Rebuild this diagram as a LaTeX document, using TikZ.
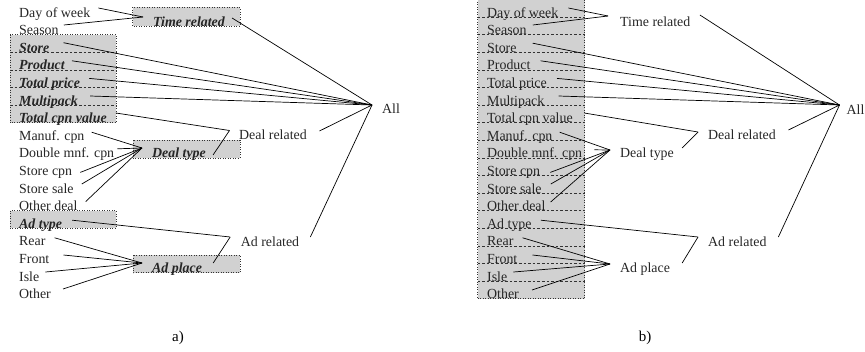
\documentclass[tikz,border=0pt]{standalone}
\usepackage{fontspec}
\setmainfont{Liberation Serif}
\begin{document}
\begin{tikzpicture}[x=1pt,y=-1pt,
  lbl/.style={font=\fontsize{13.9}{16}\selectfont, inner sep=0pt, anchor=base west, text=black!85},
  blbl/.style={lbl, font=\fontsize{13.9}{16}\selectfont\bfseries\itshape},
  conn/.style={line width=0.7pt, black},
  gfill/.style={fill=black!18, draw=none},
  gborder/.style={draw=black!80, line width=0.6pt, dash pattern=on 0.7pt off 1.8pt},
  sepline/.style={draw=black!80, line width=0.55pt, dash pattern=on 2.6pt off 2pt},
  panel/.style={font=\fontsize{15}{18}\selectfont, inner sep=0pt}]
\useasboundingbox (0,0) rectangle (865,351);

% ---------------- boxes panel a ----------------
\fill[gfill] (132.5,7.3) rectangle (240,26);
\draw[gborder] (132.5,7.3) rectangle (240,26);
\fill[gfill] (10,34.6) rectangle (116,122.6);
\foreach \yy in {52.2,69.8,87.4,105} \draw[sepline] (10,\yy) -- (116,\yy);
\draw[gborder] (10,34.6) rectangle (116,122.6);
\fill[gfill] (133,140) rectangle (240,157.8);
\draw[gborder] (133,140) rectangle (240,157.8);
\fill[gfill] (10,210.6) rectangle (116,228.2);
\draw[gborder] (10,210.6) rectangle (116,228.2);
\fill[gfill] (133,255) rectangle (240,272.5);
\draw[gborder] (133,255) rectangle (240,272.5);

% ---------------- box panel b ----------------
\fill[gfill] (477.5,-1) rectangle (584.5,298.6);
\foreach \yy in {17,34.6,52.2,69.8,87.4,105,122.6,140.2,157.8,175.4,193,210.6,228.2,245.8,263.4,281}
  \draw[sepline] (477.5,\yy) -- (584.5,\yy);
\draw[gborder] (477.5,-1) rectangle (584.5,298.6);

% ---------------- nodes panel a ----------------
\node[lbl]  (aday)   at (19,17)    {Day of week};
\node[lbl]  (asea)   at (19,34.6)  {Season};
\node[blbl] (asto)   at (19,52.2)  {Store};
\node[blbl] (apro)   at (19,69.8)  {Product};
\node[blbl] (atp)    at (19,87.4)  {Total price};
\node[blbl] (amp)    at (19,105)   {Multipack};
\node[blbl] (atcv)   at (19,122.6) {Total cpn value};
\node[lbl]  (aman)   at (19,140.2) {Manuf. cpn};
\node[lbl]  (adbl)   at (19,157.8) {Double mnf. cpn};
\node[lbl]  (ascp)   at (19,175.4) {Store cpn};
\node[lbl]  (assa)   at (19,193)   {Store sale};
\node[lbl]  (aod)    at (19,210.6) {Other deal};
\node[blbl] (aat)    at (19,228.2) {Ad type};
\node[lbl]  (arear)  at (19,245.8) {Rear};
\node[lbl]  (afront) at (19,263.4) {Front};
\node[lbl]  (aisle)  at (19,281)   {Isle};
\node[lbl]  (aoth)   at (19,298.6) {Other};

\node[blbl] (atime)  at (153,26)   {Time related};
\node[blbl] (adt)    at (152,157)  {Deal type};
\node[blbl] (aap)    at (152,272)  {Ad place};
\node[lbl]  (adr)    at (239,139)  {Deal related};
\node[lbl]  (aar)    at (240.7,246){Ad related};
\node[lbl]  (aall)   at (382,113)  {All};

% ---------------- nodes panel b ----------------
\node[lbl] (bday)   at (487,17)    {Day of week};
\node[lbl] (bsea)   at (487,34.6)  {Season};
\node[lbl] (bsto)   at (487,52.2)  {Store};
\node[lbl] (bpro)   at (487,69.8)  {Product};
\node[lbl] (btp)    at (487,87.4)  {Total price};
\node[lbl] (bmp)    at (487,105)   {Multipack};
\node[lbl] (btcv)   at (487,122.6) {Total cpn value};
\node[lbl] (bman)   at (487,140.2) {Manuf. cpn};
\node[lbl] (bdbl)   at (487,157.8) {Double mnf. cpn};
\node[lbl] (bscp)   at (487,175.4) {Store cpn};
\node[lbl] (bssa)   at (487,193)   {Store sale};
\node[lbl] (bod)    at (487,210.6) {Other deal};
\node[lbl] (bat)    at (487,228.2) {Ad type};
\node[lbl] (brear)  at (487,245.8) {Rear};
\node[lbl] (bfront) at (487,263.4) {Front};
\node[lbl] (bisle)  at (487,281)   {Isle};
\node[lbl] (both)   at (487,298.6) {Other};

\node[lbl] (btime)  at (620,26)    {Time related};
\node[lbl] (bdt)    at (620,157)   {Deal type};
\node[lbl] (bap)    at (620,272)   {Ad place};
\node[lbl] (bdr)    at (708,139)   {Deal related};
\node[lbl] (bar)    at (708,246)   {Ad related};
\node[lbl] (ball)   at (846.5,114) {All};

\node[panel] (pa) at (178,338) {a)};
\node[panel] (pb) at (645,338) {b)};

% ---------------- junction points ----------------
\coordinate (aTj)  at ([xshift=-10pt,yshift=9pt]atime.base west);
\coordinate (aDj)  at ([xshift=-10pt,yshift=9pt]adt.base west);
\coordinate (aPj)  at ([xshift=-10pt,yshift=9pt]aap.base west);
\coordinate (aDRj) at ([xshift=-9.5pt,yshift=8.5pt]adr.base west);
\coordinate (aARj) at ([xshift=-10.5pt,yshift=9pt]aar.base west);
\coordinate (aAj)  at ([xshift=-10pt,yshift=8pt]aall.base west);

\coordinate (bTj)  at ([xshift=-12pt,yshift=10pt]btime.base west);
\coordinate (bDj)  at ([xshift=-10pt,yshift=7pt]bdt.base west);
\coordinate (bPj)  at ([xshift=-10pt,yshift=8pt]bap.base west);
\coordinate (bDRj) at ([xshift=-10pt,yshift=7pt]bdr.base west);
\coordinate (bARj) at ([xshift=-10pt,yshift=9pt]bar.base west);
\coordinate (bAj)  at ([xshift=-7pt,yshift=9pt]ball.base west);

% ---------------- connectors panel a ----------------
\draw[conn] ([xshift=8pt,yshift=9pt]aday.base east) -- (aTj);
\draw[conn] ([xshift=5pt,yshift=9.6pt]asea.base east) -- (aTj);
\draw[conn] ([xshift=7pt,yshift=8pt]atime.base east) -- (aAj);
\draw[conn] ([xshift=14pt,yshift=9.5pt]asto.base east) -- (aAj);
\draw[conn] ([xshift=7pt,yshift=9pt]apro.base east) -- (aAj);
\draw[conn] ([xshift=9pt,yshift=9pt]atp.base east) -- (aAj);
\draw[conn] ([xshift=12pt,yshift=9pt]amp.base east) -- (aAj);
\draw[conn] ([xshift=9pt,yshift=9.6pt]atcv.base east) -- (aDRj);
\draw[conn] ([xshift=7pt,yshift=2pt]adt.base east) -- (aDRj);
\draw[conn] ([xshift=12.5pt,yshift=8pt]adr.base east) -- (aAj);
\draw[conn] ([xshift=7pt,yshift=8pt]aman.base east) -- (aDj);
\draw[conn] ([xshift=3pt,yshift=9pt]adbl.base east) -- (aDj);
\draw[conn] ([xshift=8pt,yshift=3pt]ascp.base east) -- (aDj);
\draw[conn] ([xshift=8pt,yshift=9pt]assa.base east) -- (aDj);
\draw[conn] ([xshift=8pt,yshift=9pt]aod.base east) -- (aDj);
\draw[conn] ([xshift=10pt,yshift=8pt]aat.base east) -- (aARj);
\draw[conn] ([xshift=11pt,yshift=9pt]aap.base east) -- (aARj);
\draw[conn] ([xshift=11pt,yshift=9pt]aar.base east) -- (aAj);
\draw[conn] ([xshift=9pt,yshift=8pt]arear.base east) -- (aPj);
\draw[conn] ([xshift=14pt,yshift=8.4pt]afront.base east) -- (aPj);
\draw[conn] ([xshift=6pt,yshift=9pt]aisle.base east) -- (aPj);
\draw[conn] ([xshift=12pt,yshift=9.6pt]aoth.base east) -- (aPj);

% ---------------- connectors panel b ----------------
\draw[conn] ([xshift=10pt,yshift=9pt]bday.base east) -- (bTj);
\draw[conn] ([xshift=6pt,yshift=9.6pt]bsea.base east) -- (bTj);
\draw[conn] ([xshift=9.4pt,yshift=11pt]btime.base east) -- (bAj);
\draw[conn] ([xshift=16pt,yshift=9pt]bsto.base east) -- (bAj);
\draw[conn] ([xshift=10pt,yshift=9pt]bpro.base east) -- (bAj);
\draw[conn] ([xshift=10pt,yshift=9pt]btp.base east) -- (bAj);
\draw[conn] ([xshift=14pt,yshift=9pt]bmp.base east) -- (bAj);
\draw[conn] ([xshift=11.5pt,yshift=9.6pt]btcv.base east) -- (bDRj);
\draw[conn] ([xshift=8pt,yshift=9pt]bdt.base east) -- (bDRj);
\draw[conn] ([xshift=12.5pt,yshift=9pt]bdr.base east) -- (bAj);
\draw[conn] ([xshift=7pt,yshift=8pt]bman.base east) -- (bDj);
\draw[conn] ([xshift=12pt,yshift=8pt]bdbl.base east) -- (bDj);
\draw[conn] ([xshift=10pt,yshift=3pt]bscp.base east) -- (bDj);
\draw[conn] ([xshift=9pt,yshift=9pt]bssa.base east) -- (bDj);
\draw[conn] ([xshift=5pt,yshift=8.6pt]bod.base east) -- (bDj);
\draw[conn] ([xshift=9pt,yshift=8pt]bat.base east) -- (bARj);
\draw[conn] ([xshift=12pt,yshift=9pt]bap.base east) -- (bARj);
\draw[conn] ([xshift=11.7pt,yshift=9pt]bar.base east) -- (bAj);
\draw[conn] ([xshift=9pt,yshift=8pt]brear.base east) -- (bPj);
\draw[conn] ([xshift=15pt,yshift=8.4pt]bfront.base east) -- (bPj);
\draw[conn] ([xshift=6pt,yshift=9pt]bisle.base east) -- (bPj);
\draw[conn] ([xshift=13pt,yshift=8.6pt]both.base east) -- (bPj);
\end{tikzpicture}
\end{document}
